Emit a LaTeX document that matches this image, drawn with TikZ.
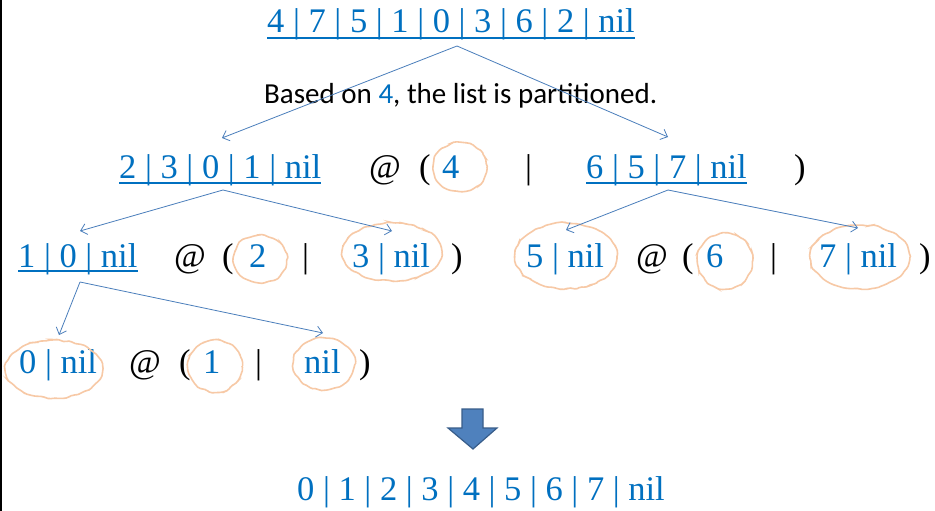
\documentclass[tikz,border=0pt]{standalone}
\usepackage{fontspec}
\setmainfont{Liberation Serif}
\newfontfamily\timesfont{Liberation Serif}
\newfontfamily\calibrifont{Carlito}
\usetikzlibrary{arrows.meta,decorations.pathmorphing}
\definecolor{txtblue}{HTML}{0070C0}
\definecolor{linkblue}{HTML}{4A7EBB}
\definecolor{scribble}{HTML}{F7C9A6}
\definecolor{arrowfill}{HTML}{4F81BD}
\definecolor{arrowedge}{HTML}{385D8A}
\tikzset{
  lst/.style={inner sep=0pt, anchor=base west, text=txtblue, font=\timesfont\fontsize{34.5}{40}\selectfont},
  sym/.style={inner sep=0pt, anchor=base west, text=black, font=\timesfont\fontsize{34.5}{40}\selectfont},
  uline/.style={draw=txtblue, line width=2pt},
  conn/.style={draw=linkblue, line width=0.8pt, -{Straight Barb[length=6pt,width=11pt]}},
  loop/.style={draw=scribble, line width=1.6pt, decorate,
    decoration={random steps, segment length=4pt, amplitude=1.1pt}, rounded corners=1.8pt},
}
\begin{document}
\begin{tikzpicture}[x=1pt,y=-1pt]
\useasboundingbox (0,0) rectangle (935,511);
\fill[white] (0,0) rectangle (935,511);
\draw[black, line width=1.5pt] (0.75,0) -- (0.75,511);
\pgfmathsetseed{7}

% ---- the full list and the partition note
\node[lst] (t0) at (267,33) {4 | 7 | 5 | 1 | 0 | 3 | 6 | 2 | nil};
\draw[uline] ([yshift=-5pt]t0.base west) -- ([yshift=-5pt]t0.base east);
\node[inner sep=0pt, anchor=base west, font=\calibrifont\fontsize{29}{35}\selectfont] (note) at (264,103)
  {Based on \textcolor{txtblue}{4}, the list is partitioned.};

% ---- first split
\node[lst] (l1) at (119,178) {2 | 3 | 0 | 1 | nil};
\draw[uline] ([yshift=-4.5pt]l1.base west) -- ([yshift=-4.5pt]l1.base east);
\node[sym] (at1) at (369,178) {@};
\node[sym] (op1) at (419,178) {(};
\node[lst] (p1) at (442,178) {4};
\node[sym] (bar1) at (525,178) {|};
\node[lst] (r1) at (586,178) {6 | 5 | 7 | nil};
\draw[uline] ([yshift=-4.5pt]r1.base west) -- ([yshift=-4.5pt]r1.base east);
\node[sym] (cp1) at (794,178) {)};

% ---- second split, left half
\node[lst] (l2) at (18,267) {1 | 0 | nil};
\draw[uline] ([yshift=-3.5pt]l2.base west) -- ([yshift=-3.5pt]l2.base east);
\node[sym] (at2) at (174,267) {@};
\node[sym] (op2) at (222,267) {(};
\node[lst] (p2) at (249,267) {2};
\node[sym] (bar2) at (302,267) {|};
\node[lst] (g2) at (352,267) {3 | nil};
\node[sym] (cp2) at (451,267) {)};

% ---- second split, right half
\node[lst] (l3) at (526,267) {5 | nil};
\node[sym] (at3) at (636,267) {@};
\node[sym] (op3) at (682,267) {(};
\node[lst] (p3) at (706,267) {6};
\node[sym] (bar3) at (770,267) {|};
\node[lst] (g3) at (819,267) {7 | nil};
\node[sym] (cp3) at (919,267) {)};

% ---- third split
\node[lst] (l4) at (19,373) {0 | nil};
\node[sym] (at4) at (129,373) {@};
\node[sym] (op4) at (179,373) {(};
\node[lst] (p4) at (203,373) {1};
\node[sym] (bar4) at (255,373) {|};
\node[lst] (g4) at (304,373) {nil};
\node[sym] (cp4) at (359,373) {)};

% ---- hand-drawn loops round the finished pieces
\draw[loop] (460,167) ellipse (27 and 24.5);
\draw[loop] (260,259) ellipse (27 and 24);
\draw[loop] (392,252) ellipse (50 and 29);
\draw[loop] (566,256) ellipse (51 and 33);
\draw[loop] (725,261) ellipse (27.5 and 28);
\draw[loop] (860,257) ellipse (50 and 32);
\draw[loop] (54,369) ellipse (49 and 29);
\draw[loop] (215,366) ellipse (27 and 26);
\draw[loop] (324,364) ellipse (31 and 26);

% ---- connectors of the partition tree
\coordinate (s0) at (457,46);
\coordinate (e0l) at (222,138);
\coordinate (e0r) at (668,137);
\coordinate (s1) at (223,190);
\coordinate (e1l) at (80,231);
\coordinate (e1r) at (392,231);
\coordinate (s2) at (668,190);
\coordinate (e2l) at (566,230);
\coordinate (e2r) at (858,228);
\coordinate (s3) at (80,282);
\coordinate (e3l) at (59,335);
\coordinate (e3r) at (323,333);
\draw[conn] (s0) -- (e0l);
\draw[conn] (s0) -- (e0r);
\draw[conn] (s1) -- (e1l);
\draw[conn] (s1) -- (e1r);
\draw[conn] (s2) -- (e2l);
\draw[conn] (s2) -- (e2r);
\draw[conn] (s3) -- (e3l);
\draw[conn] (s3) -- (e3r);

% ---- block arrow and the sorted result
\draw[fill=arrowfill, draw=arrowedge, line width=1.2pt, line join=miter]
  (462,409) -- (483,409) -- (483,428) -- (497,428) -- (473,449) -- (448,428) -- (462,428) -- cycle;
\node[lst] (res) at (297,500) {0 | 1 | 2 | 3 | 4 | 5 | 6 | 7 | nil};
\end{tikzpicture}
\end{document}
